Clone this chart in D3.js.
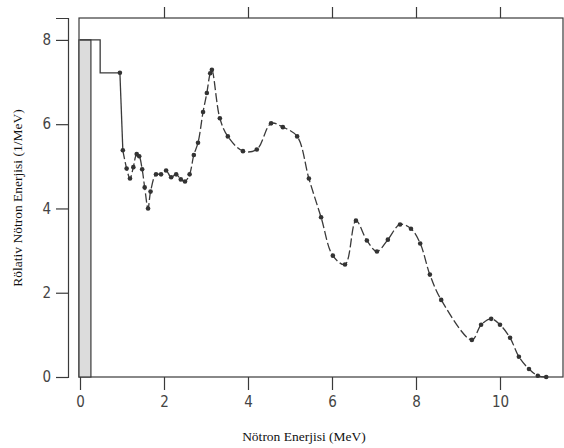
<!DOCTYPE html>
<html>
<head>
<meta charset="utf-8">
<script src="https://cdn.jsdelivr.net/npm/d3@7"></script>
<style>
  body { margin: 0; background: #fff; }
  svg { display: block; }
</style>
</head>
<body>
<div id="chart"></div>
<script>
// Ölçülen nötron spektrumu (okunan değerler)
const energy = [0.95, 1.02, 1.11, 1.19, 1.27, 1.35, 1.41, 1.48, 1.54, 1.62, 1.68, 1.81, 1.93, 2.05, 2.17, 2.29, 2.40, 2.50, 2.61,
    2.71, 2.81, 2.93, 3.02, 3.10, 3.14, 3.33, 3.52, 3.88, 4.21, 4.55, 4.83, 5.17, 5.45, 5.74, 6.02, 6.31, 6.57, 6.83, 7.07,
    7.33, 7.62, 7.88, 8.10, 8.33, 8.60, 9.33, 9.55, 9.79, 10.00, 10.24, 10.45, 10.69, 10.90, 11.10];
const flux = [7.22, 5.38, 4.95, 4.71, 4.98, 5.29, 5.24, 4.93, 4.50, 4.00, 4.40, 4.81, 4.81, 4.90, 4.74, 4.81, 4.69, 4.64, 4.81,
    5.27, 5.56, 6.29, 6.74, 7.21, 7.29, 6.14, 5.71, 5.36, 5.40, 6.02, 5.93, 5.71, 4.71, 3.79, 2.88, 2.67, 3.71, 3.24, 2.98,
    3.26, 3.62, 3.52, 3.17, 2.43, 1.83, 0.88, 1.24, 1.38, 1.24, 0.93, 0.48, 0.19, 0.03, 0.0];

// düşük enerjili kısım: basamak ve taralı çubuk
const stepEnergy = [0, 0.48, 0.48, 0.95];
const stepFlux = [8, 8, 7.22, 7.22];
const barRange = [0, 0.26];
const barHeight = 8;

const xTicks = [0, 2, 4, 6, 8, 10];
const topTicks = [2, 4, 6, 8, 10];
const yTicks = [0, 2, 4, 6, 8];

const width = 564, height = 448;
const ink = '#3a3a3a';

const svg = d3.select('#chart').append('svg')
    .attr('width', width)
    .attr('height', height);

const x = d3.scaleLinear().domain([0, 11.5]).range([80, 563]);
const y = d3.scaleLinear().domain([0, 8.52]).range([377, 18]);

const numFont = '"Liberation Sans Narrow", "DejaVu Sans Condensed", "Liberation Sans", sans-serif';
const serif = '"Liberation Serif", "DejaVu Serif", serif';

// çerçeve
svg.append('rect')
    .attr('x', 79).attr('y', 18)
    .attr('width', 563 - 79).attr('height', 377 - 18)
    .attr('fill', 'none')
    .attr('stroke', ink)
    .attr('stroke-width', 1.2);

// alt eksen
const xAxis = svg.append('g')
    .attr('transform', 'translate(0,377)')
    .call(d3.axisBottom(x).tickValues(xTicks).tickSize(13).tickPadding(6).tickSizeOuter(0));
xAxis.select('.domain').remove();
xAxis.selectAll('line').attr('stroke', ink).attr('stroke-width', 1.2);
xAxis.selectAll('text')
    .attr('fill', '#444')
    .style('font-family', numFont)
    .style('font-size', '15px');

// üst eksen (sadece çentikler)
const topAxis = svg.append('g')
    .attr('transform', 'translate(0,18)')
    .call(d3.axisTop(x).tickValues(topTicks).tickSize(11).tickFormat('').tickSizeOuter(0));
topAxis.select('.domain').remove();
topAxis.selectAll('line').attr('stroke', ink).attr('stroke-width', 1.2);

// ayrık sol eksen
const yAxis = svg.append('g')
    .attr('transform', 'translate(68,0)')
    .call(d3.axisLeft(y).tickValues(yTicks).tickSize(12).tickPadding(5).tickSizeOuter(12));
yAxis.select('.domain').attr('stroke', ink).attr('stroke-width', 1.2);
yAxis.selectAll('line').attr('stroke', ink).attr('stroke-width', 1.2);
yAxis.selectAll('text')
    .attr('fill', '#444')
    .style('font-family', numFont)
    .style('font-size', '15px');

// taralı çubuk
svg.append('rect')
    .attr('x', x(barRange[0]) - 1)
    .attr('y', y(barHeight))
    .attr('width', x(barRange[1]) - x(barRange[0]) + 1)
    .attr('height', y(0) - y(barHeight))
    .attr('fill', '#dcdcdc')
    .attr('stroke', ink)
    .attr('stroke-width', 1.2);

// basamak
const stepLine = d3.line()
    .x((d, i) => x(stepEnergy[i]))
    .y((d, i) => y(stepFlux[i]));
svg.append('path')
    .attr('d', stepLine(stepEnergy))
    .attr('fill', 'none')
    .attr('stroke', ink)
    .attr('stroke-width', 1.3);

// spektrum eğrisi
const points = energy.map((e, i) => ({ e, f: flux[i] }));
const curve = d3.line()
    .x(d => x(d.e))
    .y(d => y(d.f))
    .curve(d3.curveCatmullRom.alpha(0.5));

// ilk düşüş düz çizgi
svg.append('path')
    .attr('d', curve(points.slice(0, 2)))
    .attr('fill', 'none')
    .attr('stroke', ink)
    .attr('stroke-width', 1.3);

svg.append('path')
    .attr('d', curve(points.slice(1)))
    .attr('fill', 'none')
    .attr('stroke', ink)
    .attr('stroke-width', 1.3)
    .attr('stroke-dasharray', '9,3');

svg.selectAll('.dot')
    .data(points)
    .join('circle')
    .attr('class', 'dot')
    .attr('cx', d => x(d.e))
    .attr('cy', d => y(d.f))
    .attr('r', 2.3)
    .attr('fill', '#333');

// eksen başlıkları
svg.append('text')
    .attr('x', 304)
    .attr('y', 441)
    .attr('text-anchor', 'middle')
    .attr('fill', '#111')
    .style('font-family', serif)
    .style('font-size', '13.5px')
    .text('Nötron Enerjisi (MeV)');

svg.append('text')
    .attr('transform', 'translate(22,198) rotate(-90)')
    .attr('text-anchor', 'middle')
    .attr('fill', '#111')
    .style('font-family', serif)
    .style('font-size', '13.5px')
    .text('Rölativ Nötron Enerjisi (1/MeV)');
</script>
</body>
</html>
